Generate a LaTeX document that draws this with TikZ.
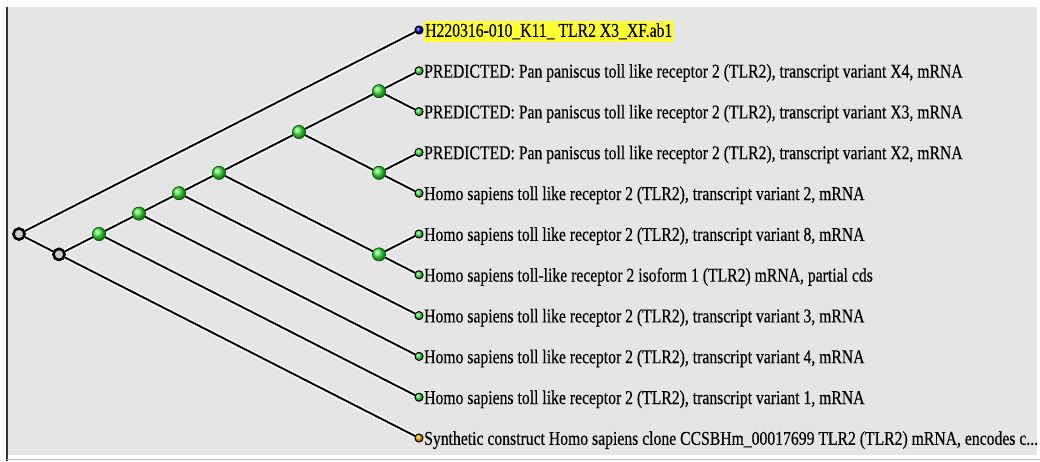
\documentclass[tikz,border=0pt]{standalone}
\usepackage{fontspec}
\newfontfamily\lbl{Liberation Serif}[FakeStretch=0.805,FakeBold=0.4]
\usetikzlibrary{shadings}
\definecolor{bg}{HTML}{E5E5E5}
\definecolor{hl}{HTML}{FFFF33}
\definecolor{gr}{HTML}{44EE44}
\tikzset{
  edge/.style={draw=black, line width=1.9pt},
  glow/.style={draw=white, line width=5pt, opacity=0.8},
  inner/.style={circle, minimum size=13pt, inner sep=0pt, ball color=gr, draw=black!60!green, line width=0.6pt},
  blk/.style={circle, minimum size=11pt, inner sep=0pt, fill=white!80!black, draw=black, line width=2.4pt},
  leafg/.style={circle, minimum size=8pt, inner sep=0pt, ball color=gr, draw=black, line width=0.8pt},
  leafb/.style={circle, minimum size=8pt, inner sep=0pt, ball color=blue!70!black, draw=black, line width=0.8pt},
  leafy/.style={circle, minimum size=8pt, inner sep=0pt, ball color=orange!70!yellow, draw=black, line width=0.8pt},
  lab/.style={anchor=base west, inner sep=0pt, font=\lbl\fontsize{19.5}{19.5}\selectfont, text=black},
}
\begin{document}
\begin{tikzpicture}[x=1pt,y=-1pt]
\useasboundingbox (0,0) rectangle (1040,461);
\fill[white] (0,0) rectangle (1040,461);
\fill[bg] (8,7) rectangle (1037,455);
\draw[black!80, line width=1.5pt] (7,7) -- (7,461);
\draw[black!25, line width=0.8pt] (7,459) -- (1040,459);

% internal nodes
\node[blk] (root) at (19,234) {};
\node[blk] (b2) at (59,254.4) {};
\node[inner] (n1) at (99,234) {};
\node[inner] (n2) at (139,213.6) {};
\node[inner] (n3) at (179,193.2) {};
\node[inner] (n4) at (219,172.8) {};
\node[inner] (n5) at (299,132) {};
\node[inner] (n6) at (379,91.2) {};
\node[inner] (n7) at (379,172.8) {};
\node[inner] (n8) at (379,254.4) {};

% leaves
\node[leafb] (l0) at (419,30) {};
\node[leafg] (l1) at (419,70.8) {};
\node[leafg] (l2) at (419,111.6) {};
\node[leafg] (l3) at (419,152.4) {};
\node[leafg] (l4) at (419,193.2) {};
\node[leafg] (l5) at (419,234) {};
\node[leafg] (l6) at (419,274.8) {};
\node[leafg] (l7) at (419,315.6) {};
\node[leafg] (l8) at (419,356.4) {};
\node[leafg] (l9) at (419,397.2) {};
\node[leafy] (l10) at (419,438) {};

% edges
\foreach \a/\b in {root/l0,root/b2,b2/n1,b2/l10,n1/n2,n1/l9,n2/n3,n2/l8,n3/n4,n3/l7,n4/n5,n4/n8,n5/n6,n5/n7,n6/l1,n6/l2,n7/l3,n7/l4,n8/l5,n8/l6}
  \draw[glow] (\a) -- (\b);
\foreach \a/\b in {root/l0,root/b2,b2/n1,b2/l10,n1/n2,n1/l9,n2/n3,n2/l8,n3/n4,n3/l7,n4/n5,n4/n8,n5/n6,n5/n7,n6/l1,n6/l2,n7/l3,n7/l4,n8/l5,n8/l6}
  \draw[edge] (\a) -- (\b);

% redraw nodes on top
\node[blk] at (root) {};
\node[blk] at (b2) {};
\foreach \n in {n1,n2,n3,n4,n5,n6,n7,n8} \node[inner] at (\n) {};
\node[leafb] at (l0) {};
\foreach \n in {l1,l2,l3,l4,l5,l6,l7,l8,l9} \node[leafg] at (\n) {};
\node[leafy] at (l10) {};

% labels
\node[lab, fill=hl, inner ysep=2.5pt, inner xsep=1pt] (t0) at ([xshift=5pt,yshift=-6.8pt]l0.center) {H220316-010\_K11\_ TLR2 X3\_XF.ab1};
\node[lab] (t1) at ([xshift=5pt,yshift=-6.8pt]l1.center) {PREDICTED: Pan paniscus toll like receptor 2 (TLR2), transcript variant X4, mRNA};
\node[lab] (t2) at ([xshift=5pt,yshift=-6.8pt]l2.center) {PREDICTED: Pan paniscus toll like receptor 2 (TLR2), transcript variant X3, mRNA};
\node[lab] (t3) at ([xshift=5pt,yshift=-6.8pt]l3.center) {PREDICTED: Pan paniscus toll like receptor 2 (TLR2), transcript variant X2, mRNA};
\node[lab] (t4) at ([xshift=5pt,yshift=-6.8pt]l4.center) {Homo sapiens toll like receptor 2 (TLR2), transcript variant 2, mRNA};
\node[lab] (t5) at ([xshift=5pt,yshift=-6.8pt]l5.center) {Homo sapiens toll like receptor 2 (TLR2), transcript variant 8, mRNA};
\node[lab] (t6) at ([xshift=5pt,yshift=-6.8pt]l6.center) {Homo sapiens toll-like receptor 2 isoform 1 (TLR2) mRNA, partial cds};
\node[lab] (t7) at ([xshift=5pt,yshift=-6.8pt]l7.center) {Homo sapiens toll like receptor 2 (TLR2), transcript variant 3, mRNA};
\node[lab] (t8) at ([xshift=5pt,yshift=-6.8pt]l8.center) {Homo sapiens toll like receptor 2 (TLR2), transcript variant 4, mRNA};
\node[lab] (t9) at ([xshift=5pt,yshift=-6.8pt]l9.center) {Homo sapiens toll like receptor 2 (TLR2), transcript variant 1, mRNA};
\node[lab] (t10) at ([xshift=5pt,yshift=-6.8pt]l10.center) {Synthetic construct Homo sapiens clone CCSBHm\_00017699 TLR2 (TLR2) mRNA, encodes c...};
\end{tikzpicture}
\end{document}
